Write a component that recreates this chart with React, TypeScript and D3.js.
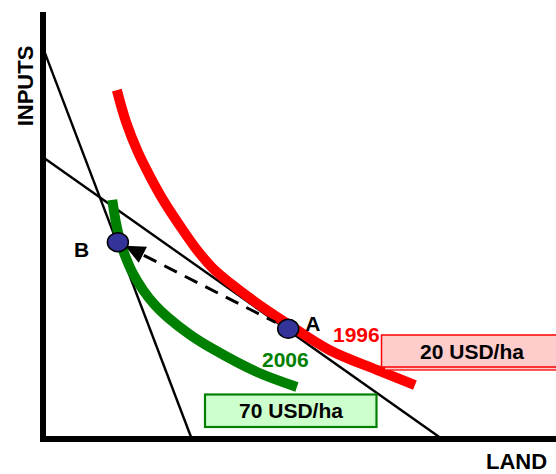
import React from "react";
import * as d3 from "d3";

// Conceptual isoquant diagram data (abstract units 0..100 on both axes)
const isoquant1996X = [14.4, 16.2, 18.5, 20.9, 23.4, 26.7, 30.0, 33.1, 36.5, 44.2, 47.8, 55.9, 65.7, 72.5];
const isoquant1996Y = [81.7, 74.2, 67.2, 61.4, 56.0, 49.9, 44.3, 40.0, 36.5, 29.7, 26.9, 20.8, 15.9, 12.6];
const isoquant2006X = [13.5, 14.2, 15.0, 16.0, 17.3, 19.5, 21.8, 24.2, 28.7, 33.1, 41.7, 49.5];
const isoquant2006Y = [56.0, 50.8, 46.6, 42.9, 39.3, 34.9, 31.4, 28.6, 24.4, 21.1, 15.7, 12.2];
const budgetSteep = [[0, 91.6], [29.0, 0]];
const budgetShallow = [[0, 66.0], [77.8, 0]];
const pointA = [47.8, 25.8];
const pointB = [14.6, 46.1];
const labels = { a: "A", b: "B", y1996: "1996", y2006: "2006", price1996: "20 USD/ha", price2006: "70 USD/ha", xAxis: "LAND", yAxis: "INPUTS" };

const W = 556;
const H = 474;
const FONT = "'Liberation Sans', Arial, Helvetica, sans-serif";

export default function App() {
  const x = d3.scaleLinear().domain([0, 100]).range([43, 556]);
  const y = d3.scaleLinear().domain([0, 100]).range([439, 12]);

  const line = d3
    .line<number[]>()
    .x((d) => x(d[0]))
    .y((d) => y(d[1]))
    .curve(d3.curveCatmullRom.alpha(0.5));
  const straight = d3.line<number[]>().x((d) => x(d[0])).y((d) => y(d[1]));

  const red = isoquant1996X.map((v, i) => [v, isoquant1996Y[i]]);
  const green = isoquant2006X.map((v, i) => [v, isoquant2006Y[i]]);

  const ax = x(pointA[0]), ay = y(pointA[1]);
  const bx = x(pointB[0]), by = y(pointB[1]);
  const dx = bx - ax, dy = by - ay;
  const len = Math.hypot(dx, dy);
  const ux = dx / len, uy = dy / len;
  const tipX = bx - ux * 8, tipY = by - uy * 8;
  const headLen = 20, headHalf = 9;
  const baseX = tipX - ux * headLen, baseY = tipY - uy * headLen;
  const px = -uy, py = ux;
  const startX = ax + ux * 14, startY = ay + uy * 14;

  return (
    <svg width={W} height={H} style={{ display: "block", position: "absolute", left: 0, top: 0 }}>
      <rect width={W} height={H} fill="#fff" />
      {/* budget lines */}
      <path d={straight(budgetSteep) || ""} stroke="#000" strokeWidth={2.4} fill="none" />
      <path d={straight(budgetShallow) || ""} stroke="#000" strokeWidth={2.4} fill="none" />
      {/* isoquants */}
      <path d={line(red) || ""} stroke="#ff0000" strokeWidth={10} fill="none" />
      <path d={line(green) || ""} stroke="#008000" strokeWidth={10} fill="none" />
      {/* dashed arrow */}
      <line x1={startX} y1={startY} x2={baseX + ux * 2} y2={baseY + uy * 2} stroke="#000" strokeWidth={3} strokeDasharray="14,9" strokeDashoffset={4} />
      <polygon
        points={`${tipX},${tipY} ${baseX + px * headHalf},${baseY + py * headHalf} ${baseX - px * headHalf},${baseY - py * headHalf}`}
        fill="#000"
      />
      {/* points */}
      <ellipse cx={ax} cy={ay} rx={10.5} ry={9.5} fill="#333399" stroke="#000" strokeWidth={1.5} />
      <ellipse cx={bx} cy={by} rx={10.5} ry={9.5} fill="#333399" stroke="#000" strokeWidth={1.5} />
      {/* axes */}
      <line x1={x(0)} y1={y(100)} x2={x(0)} y2={y(0) + 3} stroke="#000" strokeWidth={6} />
      <line x1={x(0) - 3} y1={y(0)} x2={x(100)} y2={y(0)} stroke="#000" strokeWidth={6} />
      {/* text labels */}
      <g fontFamily={FONT} fontWeight="bold" fontSize={21}>
        <text x={ax + 17} y={ay + 2} fill="#000">{labels.a}</text>
        <text x={bx - 44} y={by + 15} fill="#000">{labels.b}</text>
        <text x={333} y={342} fill="#ff0000">{labels.y1996}</text>
        <text x={262} y={367} fill="#008000">{labels.y2006}</text>
        <rect x={384.5} y={338} width={180} height={32} fill="#ffcccc" stroke="#ff0000" strokeWidth={1.3} />
        <rect x={381.5} y={335} width={180} height={32} fill="#ffcccc" stroke="#ff0000" strokeWidth={1.5} />
        <text x={472} y={359} textAnchor="middle" fill="#000">{labels.price1996}</text>
        <rect x={205} y={394.5} width={171.5} height={32.5} fill="#ccffcc" stroke="#008000" strokeWidth={2.2} />
        <text x={291} y={418} textAnchor="middle" fill="#000">{labels.price2006}</text>
        <text x={486} y={469} fontSize={22} fill="#000">{labels.xAxis}</text>
        <text transform="translate(33,86) rotate(-90)" textAnchor="middle" fontSize={22} fill="#000">{labels.yAxis}</text>
      </g>
    </svg>
  );
}
